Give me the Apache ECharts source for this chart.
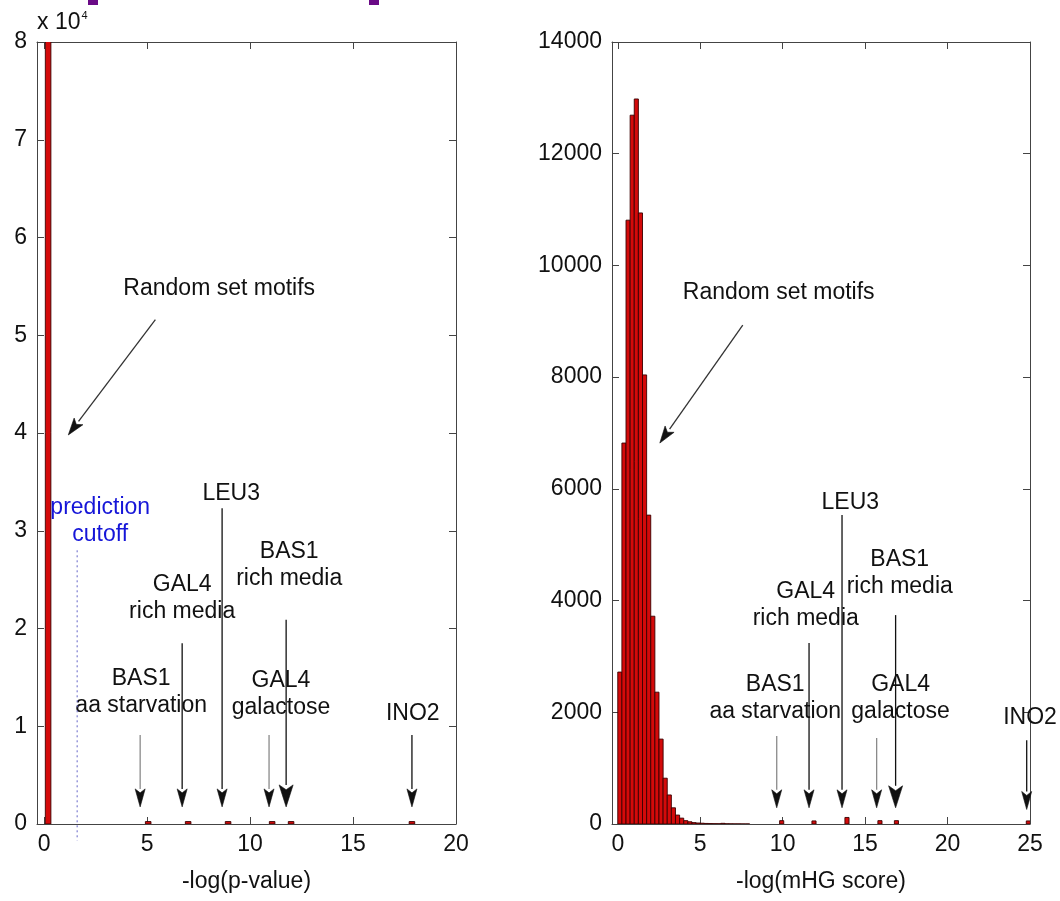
<!DOCTYPE html>
<html>
<head>
<meta charset="utf-8">
<title>motif score histograms</title>
<script src="https://cdn.jsdelivr.net/npm/echarts@6/dist/echarts.min.js"></script>
</head>
<body style="margin:0;background:#fff">
<div id="main" style="width:1060px;height:901px"></div>
<script>
// ---- left panel: -log(p-value) ----
const leftBinWidth = 0.27;
const leftBarX = [0.19, 5.05, 6.99, 8.93, 11.07, 11.99, 17.86];
const leftBarCount = [120000, 250, 250, 250, 250, 250, 250];
const leftTicks = [0, 5, 10, 15, 20];

// annotation arrows: name, x, from y, to y
const leftArrowName = ['BAS1 aa starvation', 'GAL4 rich media', 'LEU3', 'GAL4 galactose', 'BAS1 rich media', 'INO2'];
const leftArrowX = [4.66, 6.7, 8.64, 10.92, 11.75, 17.86];
const leftArrowFrom = [9100, 18500, 32300, 9100, 20900, 9100];
const leftArrowTo = [1750, 1750, 1750, 1750, 1750, 1750];
const leftLabelText = ['Random set motifs', 'LEU3', 'GAL4\nrich media', 'BAS1\nrich media', 'BAS1\naa starvation', 'GAL4\ngalactose', 'INO2'];
const leftLabelX = [8.5, 9.08, 6.7, 11.9, 4.71, 11.5, 17.9];
const leftLabelY = [54730, 33760, 23070, 26450, 13450, 13250, 11250];
const leftRandomArrow = [[5.4, 51600], [1.17, 39800]];
const cutoffX = 1.6;
const cutoffLine = [[cutoffX, 28000], [cutoffX, -1700]];
const cutoffLabel = { text: 'prediction\ncutoff', x: 2.72, y: 30950 };

// ---- right panel: -log(mHG score) ----
const rightBinWidth = 0.25;
const rightBinStart = 0;
const rightCounts = [2720, 6820, 10810, 12690, 12980, 10940, 8040, 5530, 3720, 2360,
  1520, 820, 520, 290, 160, 105, 60, 40, 25, 18, 14, 10, 8, 6, 5, 12, 4, 3, 2, 2, 1, 1];
const rightHitX = [9.94, 11.9, 13.9, 15.9, 16.9, 24.9];
const rightHitCount = [60, 55, 117, 60, 60, 55];
const rightTicks = [0, 5, 10, 15, 20, 25];

const rightArrowName = leftArrowName;
const rightArrowX = [9.64, 11.6, 13.6, 15.7, 16.85, 24.8];
const rightArrowFrom = [1575, 3240, 5530, 1540, 3740, 1500];
const rightArrowTo = [290, 290, 290, 290, 290, 260];
const rightLabelText = leftLabelText;
const rightLabelX = [9.76, 14.1, 11.4, 17.1, 9.55, 17.15, 25.0];
const rightLabelY = [9506, 5747, 3912, 4493, 2247, 2256, 1898];
const rightRandomArrow = [[7.58, 8933], [2.55, 6820]];

const grayArrows = ['BAS1 aa starvation', 'GAL4 galactose'];
const bigHeads = ['BAS1 rich media'];
const FONT = '"Liberation Sans", Arial, sans-serif';

const leftBars = leftBarX.map((x, i) => [x, leftBarCount[i]]);
const rightBars = rightCounts.map((c, i) => [rightBinStart + rightBinWidth * (i + 0.5), c])
  .concat(rightHitX.map((x, i) => [x, rightHitCount[i]]));

function histItem(width) {
  return function (params, api) {
    const x = api.value(0), y = api.value(1);
    const p0 = api.coord([x - width / 2, y]);
    const p1 = api.coord([x + width / 2, 0]);
    return {
      type: 'rect',
      shape: { x: p0[0], y: p0[1], width: p1[0] - p0[0], height: p1[1] - p0[1] },
      style: { fill: '#d40a0a', stroke: '#3a0000', lineWidth: 0.9 }
    };
  };
}

function arrowShape(a, b, color, len, half, lineColor) {
  const dx = b[0] - a[0], dy = b[1] - a[1];
  const d = Math.sqrt(dx * dx + dy * dy);
  const ux = dx / d, uy = dy / d;
  const bx = b[0] - ux * len, by = b[1] - uy * len;
  const nx = -uy, ny = ux;
  const notch = len * 0.22;
  return {
    type: 'group',
    children: [
      { type: 'line', shape: { x1: a[0], y1: a[1], x2: bx, y2: by }, style: { stroke: lineColor, lineWidth: 1.3 } },
      { type: 'polygon', shape: { points: [
        [b[0], b[1]], [bx + nx * half, by + ny * half],
        [bx + ux * notch, by + uy * notch], [bx - nx * half, by - ny * half]] },
        style: { fill: color, stroke: color, lineWidth: 0.6 } }
    ]
  };
}

function arrowSeries(names, xs, from, to, random, xi, yi) {
  const data = xs.map((x, i) => [x, from[i], to[i]]);
  return {
    type: 'custom', xAxisIndex: xi, yAxisIndex: yi, clip: false, silent: true,
    data: data.concat([[random[0][0], random[0][1], random[1][1], random[1][0]]]),
    renderItem: function (params, api) {
      const i = params.dataIndex;
      if (i === data.length) {
        const a = api.coord(random[0]), b = api.coord(random[1]);
        return arrowShape(a, b, '#111', 17, 5.5, '#333');
      }
      const a = api.coord([api.value(0), api.value(1)]);
      const b = api.coord([api.value(0), api.value(2)]);
      const gray = grayArrows.includes(names[i]);
      const big = bigHeads.includes(names[i]);
      return arrowShape(a, b, '#111', big ? 22 : 18, big ? 7 : 5, gray ? '#8a8a8a' : '#111');
    }
  };
}

function labelSeries(texts, xs, ys, xi, yi, color) {
  return {
    type: 'custom', xAxisIndex: xi, yAxisIndex: yi, clip: false, silent: true,
    data: xs.map((x, i) => [x, ys[i]]),
    renderItem: function (params, api) {
      const p = api.coord([api.value(0), api.value(1)]);
      return {
        type: 'text', x: p[0], y: p[1],
        style: { text: texts[params.dataIndex], fill: color || '#111', font: '23px ' + FONT,
          align: 'center', verticalAlign: 'middle', lineHeight: 27 }
      };
    }
  };
}

function bottomAxis(grid, max, ticks, name) {
  return {
    type: 'value', gridIndex: grid, position: 'bottom', min: -0.35, max: max,
    name: name, nameLocation: 'middle', nameGap: 46,
    nameTextStyle: { fontFamily: FONT, fontSize: 23, color: '#111' },
    axisLine: { onZero: false, lineStyle: { color: '#444', width: 1 } },
    axisTick: { inside: true, length: 7, customValues: ticks, lineStyle: { color: '#444' } },
    axisLabel: { customValues: ticks, margin: 9, fontFamily: FONT, fontSize: 23, color: '#111' },
    splitLine: { show: false }
  };
}
function topAxis(grid, max, ticks) {
  return {
    type: 'value', gridIndex: grid, position: 'top', min: -0.35, max: max,
    axisLine: { onZero: false, lineStyle: { color: '#444', width: 1 } },
    axisTick: { inside: true, length: 7, customValues: ticks, lineStyle: { color: '#444' } },
    axisLabel: { show: false }, splitLine: { show: false }
  };
}
function sideAxis(grid, max, interval, pos, labels, extra) {
  return Object.assign({
    type: 'value', gridIndex: grid, position: pos, min: 0, max: max, interval: interval,
    axisLine: { show: true, onZero: false, lineStyle: { color: '#444', width: 1 } },
    axisTick: { show: true, inside: true, length: 7, lineStyle: { color: '#444' } },
    axisLabel: labels ? { margin: 10, fontFamily: FONT, fontSize: 23, color: '#111', formatter: v => String(v) } : { show: false },
    splitLine: { show: false }
  }, extra || {});
}

const chart = echarts.init(document.getElementById('main'));
chart.setOption({
  animation: false,
  backgroundColor: '#fff',
  grid: [
    { left: 37, top: 42, width: 419, height: 782 },
    { left: 612, top: 42, width: 418, height: 782 }
  ],
  xAxis: [
    bottomAxis(0, 20, leftTicks, '-log(p-value)'),
    topAxis(0, 20, leftTicks),
    bottomAxis(1, 25, rightTicks, '-log(mHG score)'),
    topAxis(1, 25, rightTicks)
  ],
  yAxis: [
    sideAxis(0, 80000, 10000, 'left', true, {
      axisLabel: { margin: 10, fontFamily: FONT, fontSize: 23, color: '#111', formatter: v => String(v / 10000) },
      name: '{a|x 10}{s|4}', nameLocation: 'end', nameGap: 7,
      nameTextStyle: { align: 'left', rich: {
        a: { fontFamily: FONT, fontSize: 23, color: '#111' },
        s: { fontFamily: FONT, fontSize: 11, color: '#111', verticalAlign: 'top', padding: [0, 0, 14, 1] }
      } }
    }),
    sideAxis(0, 80000, 10000, 'right', false),
    sideAxis(1, 14000, 2000, 'left', true),
    sideAxis(1, 14000, 2000, 'right', false)
  ],
  graphic: [
    { type: 'rect', shape: { x: 88, y: 0, width: 10, height: 5 }, style: { fill: '#6a0a86' } },
    { type: 'rect', shape: { x: 369, y: 0, width: 10, height: 5 }, style: { fill: '#6a0a86' } }
  ],
  series: [
    { type: 'custom', xAxisIndex: 0, yAxisIndex: 0, clip: true, data: leftBars, renderItem: histItem(leftBinWidth) },
    { type: 'custom', xAxisIndex: 2, yAxisIndex: 2, clip: true, data: rightBars, renderItem: histItem(rightBinWidth) },
    { type: 'line', xAxisIndex: 0, yAxisIndex: 0, clip: false, symbol: 'none', silent: true,
      data: cutoffLine, lineStyle: { type: [2, 3], color: '#6464c8', width: 1 } },
    arrowSeries(leftArrowName, leftArrowX, leftArrowFrom, leftArrowTo, leftRandomArrow, 0, 0),
    arrowSeries(rightArrowName, rightArrowX, rightArrowFrom, rightArrowTo, rightRandomArrow, 2, 2),
    labelSeries(leftLabelText, leftLabelX, leftLabelY, 0, 0),
    labelSeries([cutoffLabel.text], [cutoffLabel.x], [cutoffLabel.y], 0, 0, '#1515d8'),
    labelSeries(rightLabelText, rightLabelX, rightLabelY, 2, 2)
  ]
});
</script>
</body>
</html>
